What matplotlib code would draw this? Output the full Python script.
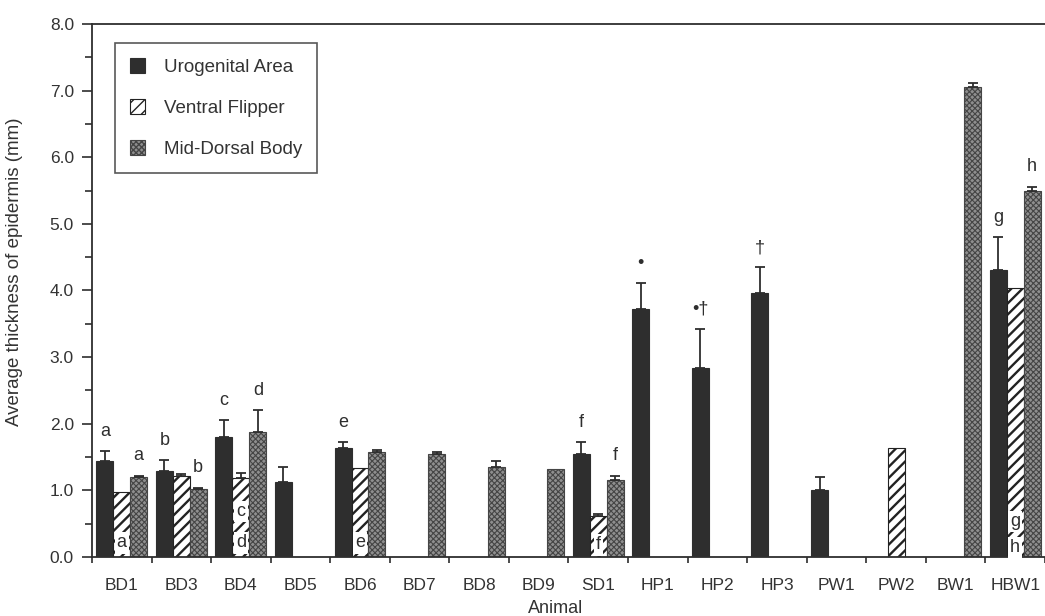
import matplotlib
matplotlib.use("Agg")
import matplotlib.pyplot as plt
from matplotlib.patches import Patch
from matplotlib.ticker import MultipleLocator, FixedLocator
import numpy as np

nan = np.nan

animals = ['BD1', 'BD3', 'BD4', 'BD5', 'BD6', 'BD7', 'BD8', 'BD9', 'SD1',
           'HP1', 'HP2', 'HP3', 'PW1', 'PW2', 'BW1', 'HBW1']

# mean thickness (mm) and upper error
urogenital = [1.44, 1.29, 1.80, 1.13, 1.64, nan, nan, nan, 1.55,
              3.72, 2.84, 3.96, 1.01, nan, nan, 4.30]
urogenital_err = [0.15, 0.17, 0.26, 0.22, 0.09, nan, nan, nan, 0.18,
                  0.39, 0.58, 0.39, 0.19, nan, nan, 0.50]
ventral = [0.98, 1.22, 1.19, nan, 1.34, nan, nan, nan, 0.62,
           nan, nan, nan, nan, 1.64, nan, 4.04]
ventral_err = [nan, 0.02, 0.07, nan, nan, nan, nan, nan, 0.02,
               nan, nan, nan, nan, nan, nan, nan]
middorsal = [1.20, 1.02, 1.88, nan, 1.58, 1.55, 1.35, 1.32, 1.16,
             nan, nan, nan, nan, nan, 7.05, 5.50]
middorsal_err = [0.02, 0.02, 0.33, nan, 0.02, 0.02, 0.09, nan, 0.06,
                 nan, nan, nan, nan, nan, 0.07, 0.06]

series_names = ['Urogenital Area', 'Ventral Flipper', 'Mid-Dorsal Body']

# letters written above bars: (animal, series index, text)
top_marks = [('BD1', 0, 'a'), ('BD1', 2, 'a'), ('BD3', 0, 'b'), ('BD3', 2, 'b'),
             ('BD4', 0, 'c'), ('BD4', 2, 'd'), ('BD6', 0, 'e'), ('SD1', 0, 'f'),
             ('SD1', 2, 'f'), ('HP1', 0, '\u2022'), ('HP2', 0, '\u2022\u2020'),
             ('HP3', 0, '\u2020'), ('HBW1', 0, 'g'), ('HBW1', 2, 'h')]
# letters written inside the ventral flipper bars: (animal, text, y)
inner_marks = [('BD1', 'a', 0.21), ('BD4', 'c', 0.68), ('BD4', 'd', 0.21),
               ('BD6', 'e', 0.21), ('SD1', 'f', 0.18), ('HBW1', 'g', 0.53),
               ('HBW1', 'h', 0.14)]

plt.rcParams['font.family'] = ['Liberation Sans', 'DejaVu Sans']

ink = '#2e2e2e'
fig = plt.figure(figsize=(10.45, 6.16), dpi=100)
ax = fig.add_axes([0.088, 0.096, 0.912, 0.865])

x = np.arange(len(animals))
w = 0.285
offsets = [-w, 0, w]
values = [urogenital, ventral, middorsal]
errors = [urogenital_err, ventral_err, middorsal_err]
styles = [dict(facecolor=ink, edgecolor=ink, hatch=None),
          dict(facecolor='white', edgecolor='#222222', hatch='///'),
          dict(facecolor='#8f8f8f', edgecolor='#454545', hatch='xxxxxx')]
hatch_lw = [1.0, 1.7, 0.8]

handles = []
for vals, errs, off, st, hl, name in zip(values, errors, offsets, styles,
                                         hatch_lw, series_names):
    v = np.array(vals)
    e = np.array(errs)
    ok = ~np.isnan(v)
    with plt.rc_context({'hatch.linewidth': hl}):
        ax.bar(x[ok] + off, v[ok], width=w, linewidth=0.8, zorder=2, **st)
        handles.append(Patch(label=name, linewidth=0.8, **st))
    okerr = ok & ~np.isnan(e)
    ax.errorbar(x[okerr] + off, v[okerr], yerr=[np.zeros(okerr.sum()), e[okerr]],
                fmt='none', ecolor=ink, elinewidth=1.3, capsize=3.5,
                capthick=1.3, zorder=3)

for name, s, txt in top_marks:
    i = animals.index(name)
    top = values[s][i] + (0 if np.isnan(errors[s][i]) else errors[s][i])
    ax.annotate(txt, (x[i] + offsets[s], top), xytext=(0, 8),
                textcoords='offset points', ha='center', va='bottom',
                fontsize=13, color=ink)

for name, txt, yy in inner_marks:
    i = animals.index(name)
    ax.text(x[i], yy, txt, ha='center', va='center', fontsize=13, color=ink,
            zorder=4, bbox=dict(facecolor='white', edgecolor='none', pad=1.5))

ax.set_xlim(-0.5, 15.5)
ax.set_ylim(0, 8)
ax.xaxis.set_major_locator(FixedLocator(x))
ax.set_xticklabels(animals, fontsize=12.5, color='#333333')
ax.xaxis.set_minor_locator(FixedLocator(np.arange(-0.5, 16, 1)))
ax.tick_params(axis='x', which='major', length=0, pad=15)
ax.tick_params(axis='x', which='minor', length=4, width=1.2, color=ink,
               direction='out')

ax.set_yticks(range(9))
ax.set_yticklabels(['%.1f' % t for t in range(9)], fontsize=12.5, color='#333333')
ax.yaxis.set_minor_locator(MultipleLocator(0.5))
ax.tick_params(axis='y', which='major', length=7, width=1.2, color=ink, pad=6)
ax.tick_params(axis='y', which='minor', length=5, width=1.2, color=ink)

for side in ['left', 'bottom', 'top']:
    ax.spines[side].set_color(ink)
    ax.spines[side].set_linewidth(1.3)
ax.spines['right'].set_visible(False)

ax.set_ylabel('Average thickness of epidermis (mm)', fontsize=13.5, color='#333333')
ax.yaxis.set_label_coords(-0.072, 0.535)
ax.set_xlabel('Animal', fontsize=13, color='#333333')
ax.xaxis.set_label_coords(0.486, -0.081)

leg = ax.legend(handles=handles, loc='upper left', bbox_to_anchor=(0.024, 0.964),
                borderaxespad=0, fontsize=13.5, frameon=True, fancybox=False,
                edgecolor=ink, handlelength=0.8, handleheight=0.8,
                labelspacing=1.25, borderpad=0.8, handletextpad=1.0)
leg.get_frame().set_linewidth(1.2)
for t in leg.get_texts():
    t.set_color('#333333')

fig.savefig('out.png', dpi=100, facecolor='white')
